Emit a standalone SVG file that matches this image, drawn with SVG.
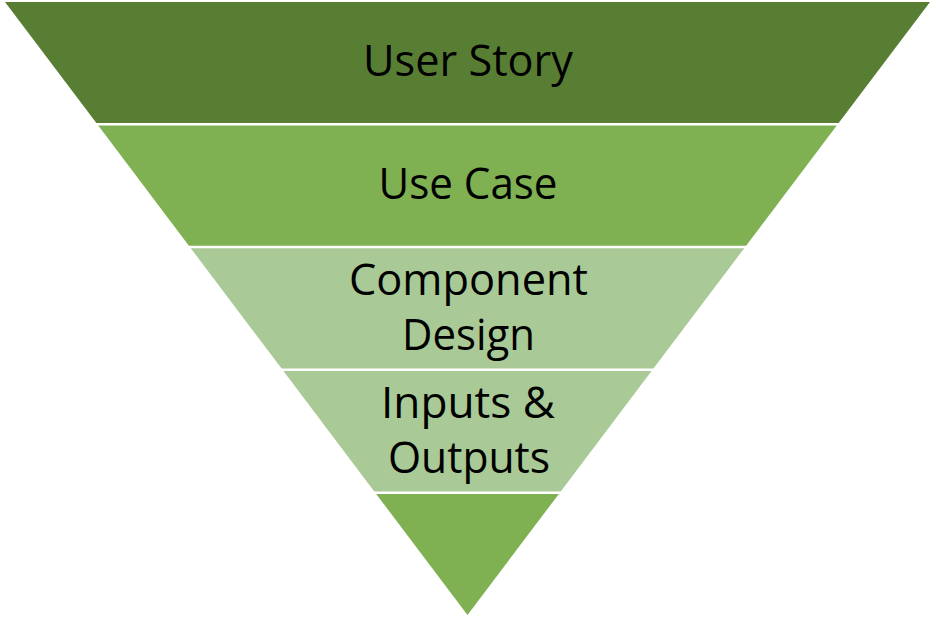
<svg xmlns="http://www.w3.org/2000/svg" width="936" height="620" viewBox="0 0 936 620">
<style>
.lbl{font-family:"Open Sans","Liberation Sans",sans-serif;font-size:43px;fill:#000;text-anchor:middle}
.sep{stroke:#fff;stroke-width:2.6}
</style>
<rect width="936" height="620" fill="#fff"/>
<g id="band1">
<polygon points="5,2 930,2 837.5,124.6 97.5,124.6" fill="#587E34"/>
<text class="lbl" x="468" y="76" textLength="210" lengthAdjust="spacingAndGlyphs">User Story</text>
</g>
<g id="band2">
<polygon points="97.5,124.6 837.5,124.6 745,247.2 190,247.2" fill="#7FB052"/>
<text class="lbl" x="468" y="199" textLength="179" lengthAdjust="spacingAndGlyphs">Use Case</text>
</g>
<g id="band3">
<polygon points="190,247.2 745,247.2 652.5,369.8 282.5,369.8" fill="#A9CA96"/>
<text class="lbl" x="468.5" y="295" textLength="239" lengthAdjust="spacingAndGlyphs">Component</text>
<text class="lbl" x="468.5" y="350" textLength="133" lengthAdjust="spacingAndGlyphs">Design</text>
</g>
<g id="band4">
<polygon points="282.5,369.8 652.5,369.8 560,492.4 375,492.4" fill="#A9CA96"/>
<text class="lbl" x="468" y="418" textLength="174" lengthAdjust="spacingAndGlyphs">Inputs &amp;</text>
<text class="lbl" x="469" y="473" textLength="162" lengthAdjust="spacingAndGlyphs">Outputs</text>
</g>
<g id="band5">
<polygon points="375,492.4 560,492.4 467.5,615" fill="#7FB052"/>
</g>
<g id="separators">
<line class="sep" x1="0" y1="124.2" x2="936" y2="124.2"/>
<line class="sep" x1="0" y1="247" x2="936" y2="247"/>
<line class="sep" x1="0" y1="369.8" x2="936" y2="369.8"/>
<line class="sep" x1="0" y1="492.8" x2="936" y2="492.8"/>
</g>
</svg>
